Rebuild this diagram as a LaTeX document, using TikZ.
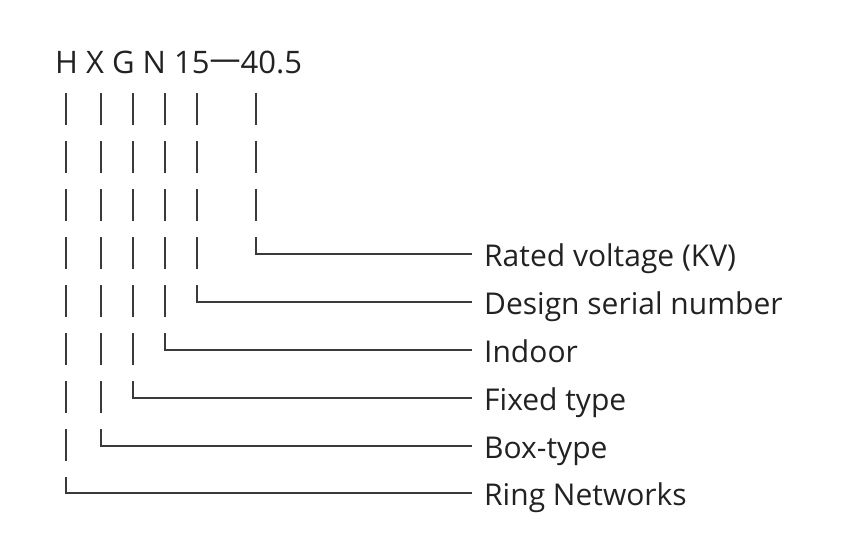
\documentclass[tikz,border=0pt]{standalone}
\usepackage{fontspec}
\setmainfont{Open Sans}
\usepackage{tikz}
\definecolor{ink}{HTML}{222222}
\definecolor{wirec}{HTML}{3A3A3A}

\begin{document}
\begin{tikzpicture}[x=1pt,y=-1pt,
    code/.style={anchor=base west,inner sep=0pt,text=ink,font=\fontsize{31}{34}\selectfont},
    lbl/.style={anchor=west,inner xsep=12pt,inner ysep=0pt,text height=24pt,
      text depth=0pt,text=ink,font=\fontsize{30}{32}\selectfont},
    wire/.style={draw=wirec,line width=1.1pt},
    bars/.style={wire,dash pattern=on 32pt off 16pt}]
  \useasboundingbox (0,0) rectangle (868,559);
  \node[code] (title) at (55,74) {H X G N 15\raisebox{4pt}{—}40.5};
  % tops of the bars and their elbows
  \coordinate (tH) at (66,93);  \coordinate (eH) at (66,477);
  \coordinate (tX) at (101,93); \coordinate (eX) at (101,429);
  \coordinate (tG) at (133,93); \coordinate (eG) at (133,381);
  \coordinate (tN) at (165,93); \coordinate (eN) at (165,333);
  \coordinate (tS) at (197,93); \coordinate (eS) at (197,285);
  \coordinate (tV) at (256,93); \coordinate (eV) at (256,237);
  \node[lbl] (volt) at (472,254) {Rated voltage (KV)};
  \node[lbl] (serial) at (472,302) {Design serial number};
  \node[lbl] (indoor) at (472,350) {Indoor};
  \node[lbl] (fixed) at (472,398) {Fixed type};
  \node[lbl] (box) at (472,446) {Box-type};
  \node[lbl] (ring) at (472,493) {Ring Networks};
  \draw[bars] (tV) -- (eV); \draw[wire] (eV) |- (volt.west);
  \draw[bars] (tS) -- (eS); \draw[wire] (eS) |- (serial.west);
  \draw[bars] (tN) -- (eN); \draw[wire] (eN) |- (indoor.west);
  \draw[bars] (tG) -- (eG); \draw[wire] (eG) |- (fixed.west);
  \draw[bars] (tX) -- (eX); \draw[wire] (eX) |- (box.west);
  \draw[bars] (tH) -- (eH); \draw[wire] (eH) |- (ring.west);
\end{tikzpicture}
\end{document}
